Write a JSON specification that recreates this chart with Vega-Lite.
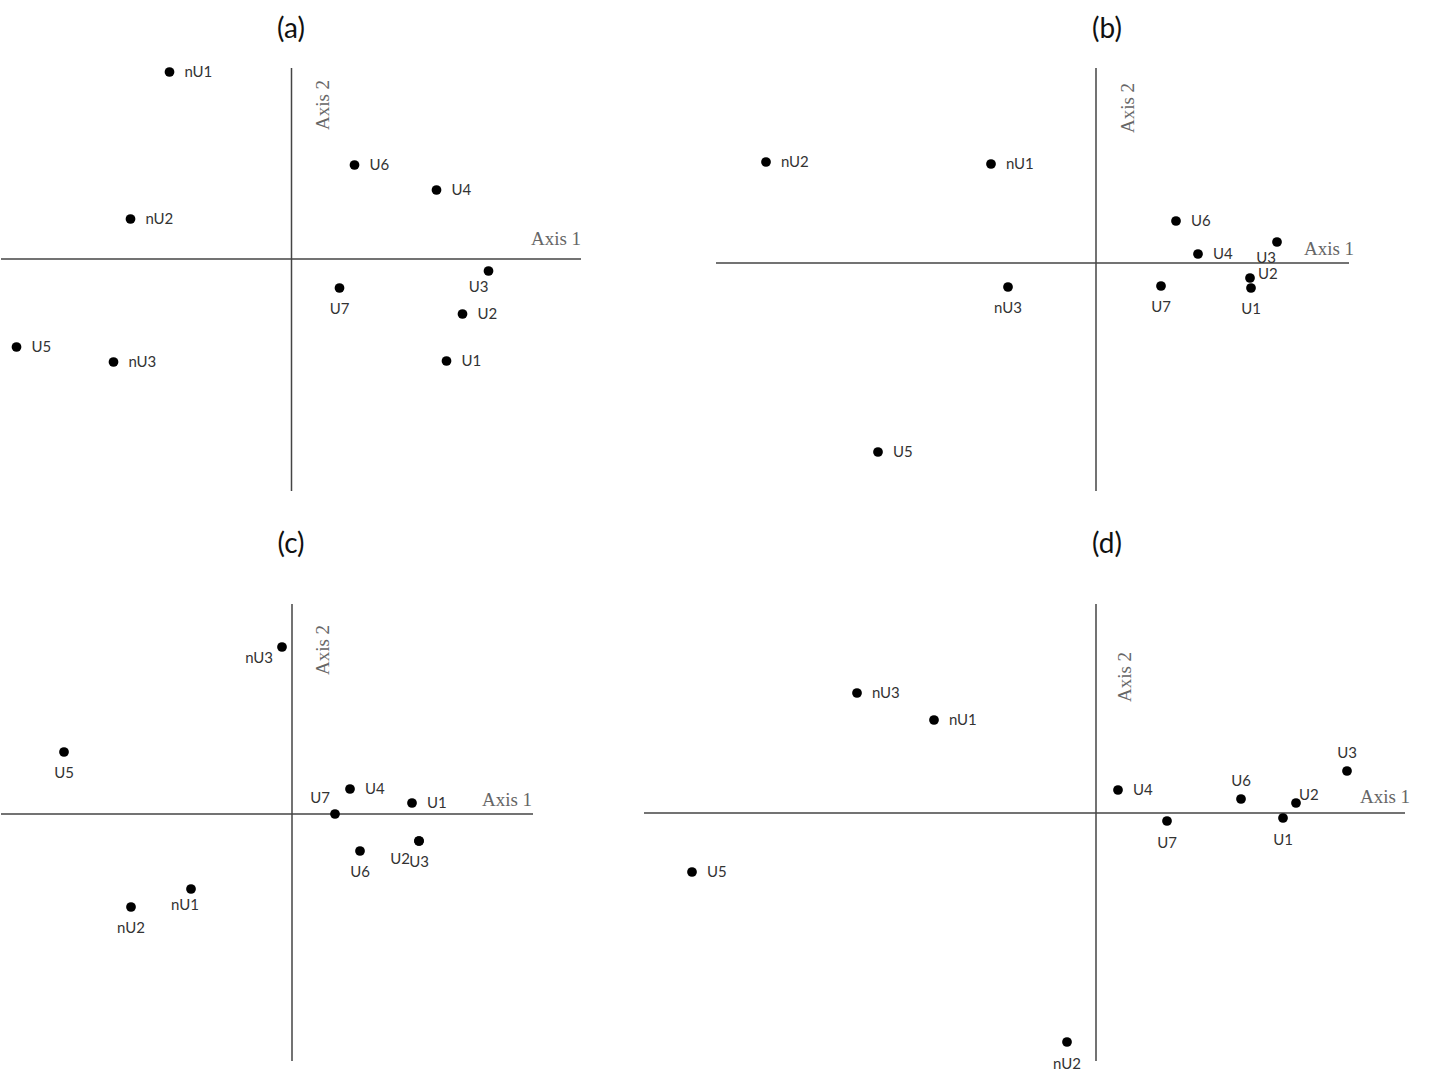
{
  "$schema": "https://vega.github.io/schema/vega-lite/v6.json",
  "padding": {"left": 0, "right": 0, "top": 16, "bottom": 0},
  "background": "white",
  "bounds": "flush",
  "columns": 2,
  "spacing": {"row": 65, "column": 0},
  "config": {
    "view": {"stroke": null},
    "title": {"font": "Lato", "fontSize": 28, "fontWeight": "normal", "color": "#111", "offset": 6},
    "text": {"font": "Lato", "fontSize": 15, "color": "#333", "baseline": "middle"},
    "rule": {"color": "#444", "strokeWidth": 1.5},
    "circle": {"color": "#000", "opacity": 1, "size": 95}
  },
  "datasets": {
    "ax": [
      {"panel": "a", "hx1": -2.905, "hx2": 2.895, "vy1": 1.91, "vy2": -2.32, "t1x": 2.645, "t1y": 0.20, "t2x": 0.315, "t2y": 1.54},
      {"panel": "b", "hx1": -3.80, "hx2": 2.53, "vy1": 1.95, "vy2": -2.28, "t1x": 2.33, "t1y": 0.14, "t2x": 0.32, "t2y": 1.55},
      {"panel": "c", "hx1": -2.91, "hx2": 2.41, "vy1": 2.10, "vy2": -2.47, "t1x": 2.15, "t1y": 0.14, "t2x": 0.31, "t2y": 1.64},
      {"panel": "d", "hx1": -4.52, "hx2": 3.09, "vy1": 2.09, "vy2": -2.48, "t1x": 2.89, "t1y": 0.16, "t2x": 0.29, "t2y": 1.36}
    ],
    "pa": [
      {"label": "nU1", "x": -1.22, "y": 1.87, "pos": "right"},
      {"label": "U6", "x": 0.63, "y": 0.94, "pos": "right"},
      {"label": "U4", "x": 1.45, "y": 0.69, "pos": "right"},
      {"label": "nU2", "x": -1.61, "y": 0.40, "pos": "right"},
      {"label": "U3", "x": 1.97, "y": -0.12, "pos": "belowleft"},
      {"label": "U7", "x": 0.48, "y": -0.29, "pos": "below"},
      {"label": "U2", "x": 1.71, "y": -0.55, "pos": "right"},
      {"label": "U5", "x": -2.75, "y": -0.88, "pos": "right"},
      {"label": "nU3", "x": -1.78, "y": -1.03, "pos": "right"},
      {"label": "U1", "x": 1.55, "y": -1.02, "pos": "right"}
    ],
    "pb": [
      {"label": "nU2", "x": -3.30, "y": 1.01, "pos": "right"},
      {"label": "nU1", "x": -1.05, "y": 0.99, "pos": "right"},
      {"label": "U6", "x": 0.80, "y": 0.42, "pos": "right"},
      {"label": "U4", "x": 1.02, "y": 0.09, "pos": "right"},
      {"label": "U3", "x": 1.81, "y": 0.21, "pos": "belowleft"},
      {"label": "U2", "x": 1.54, "y": -0.15, "pos": "rightup"},
      {"label": "U1", "x": 1.55, "y": -0.25, "pos": "below"},
      {"label": "U7", "x": 0.65, "y": -0.23, "pos": "below"},
      {"label": "nU3", "x": -0.88, "y": -0.24, "pos": "below"},
      {"label": "U5", "x": -2.18, "y": -1.89, "pos": "right"}
    ],
    "pc": [
      {"label": "nU3", "x": -0.10, "y": 1.67, "pos": "leftbelow"},
      {"label": "U5", "x": -2.28, "y": 0.62, "pos": "below"},
      {"label": "U4", "x": 0.58, "y": 0.25, "pos": "right"},
      {"label": "U7", "x": 0.43, "y": 0.00, "pos": "aboveleft"},
      {"label": "U1", "x": 1.20, "y": 0.11, "pos": "right"},
      {"label": "U6", "x": 0.68, "y": -0.37, "pos": "below"},
      {"label": "U2", "x": 1.27, "y": -0.27, "pos": "belowfarleft"},
      {"label": "U3", "x": 1.27, "y": -0.27, "pos": "below"},
      {"label": "nU1", "x": -1.01, "y": -0.75, "pos": "belowleft"},
      {"label": "nU2", "x": -1.61, "y": -0.93, "pos": "below"}
    ],
    "pd": [
      {"label": "nU3", "x": -2.39, "y": 1.20, "pos": "right"},
      {"label": "nU1", "x": -1.62, "y": 0.93, "pos": "right"},
      {"label": "U3", "x": 2.51, "y": 0.42, "pos": "above"},
      {"label": "U4", "x": 0.22, "y": 0.23, "pos": "right"},
      {"label": "U6", "x": 1.45, "y": 0.14, "pos": "above"},
      {"label": "U2", "x": 2.00, "y": 0.10, "pos": "rightup"},
      {"label": "U1", "x": 1.87, "y": -0.05, "pos": "below"},
      {"label": "U7", "x": 0.71, "y": -0.08, "pos": "below"},
      {"label": "U5", "x": -4.04, "y": -0.59, "pos": "right"},
      {"label": "nU2", "x": -0.29, "y": -2.29, "pos": "below"}
    ]
  },
  "concat": [
    {
      "width": 640, "height": 450,
      "title": {"text": "(a)", "dx": -30},
      "layer": [
        {"data": {"name": "ax"}, "transform": [{"filter": "datum.panel === 'a'"}], "mark": "rule",
         "encoding": {"x": {"field": "hx1", "type": "quantitative", "scale": {"domain": [-2.905, 3.495], "nice": false, "zero": false}, "axis": null}, "x2": {"field": "hx2"}, "y": {"datum": 0, "type": "quantitative", "scale": {"domain": [-2.41, 2.09], "nice": false, "zero": false}, "axis": null}}},
        {"data": {"name": "ax"}, "transform": [{"filter": "datum.panel === 'a'"}], "mark": "rule",
         "encoding": {"x": {"datum": 0, "type": "quantitative"}, "y": {"field": "vy1", "type": "quantitative"}, "y2": {"field": "vy2"}}},
        {"data": {"name": "ax"}, "transform": [{"filter": "datum.panel === 'a'"}], "mark": {"type": "text", "font": "Liberation Serif", "fontSize": 19, "color": "#666", "align": "center"},
         "encoding": {"x": {"field": "t1x", "type": "quantitative"}, "y": {"field": "t1y", "type": "quantitative"}, "text": {"value": "Axis 1"}}},
        {"data": {"name": "ax"}, "transform": [{"filter": "datum.panel === 'a'"}], "mark": {"type": "text", "font": "Liberation Serif", "fontSize": 19, "color": "#666", "align": "center", "angle": 270},
         "encoding": {"x": {"field": "t2x", "type": "quantitative"}, "y": {"field": "t2y", "type": "quantitative"}, "text": {"value": "Axis 2"}}},
        {"data": {"name": "pa"}, "mark": "circle",
         "encoding": {"x": {"field": "x", "type": "quantitative"}, "y": {"field": "y", "type": "quantitative"}}},
        {"data": {"name": "pa"}, "transform": [{"filter": "datum.pos === 'right'"}], "mark": {"type": "text", "align": "left", "dx": 15},
         "encoding": {"x": {"field": "x", "type": "quantitative"}, "y": {"field": "y", "type": "quantitative"}, "text": {"field": "label"}}},
        {"data": {"name": "pa"}, "transform": [{"filter": "datum.pos === 'below'"}], "mark": {"type": "text", "align": "center", "dy": 21},
         "encoding": {"x": {"field": "x", "type": "quantitative"}, "y": {"field": "y", "type": "quantitative"}, "text": {"field": "label"}}},
        {"data": {"name": "pa"}, "transform": [{"filter": "datum.pos === 'belowleft'"}], "mark": {"type": "text", "align": "center", "dx": -10, "dy": 16},
         "encoding": {"x": {"field": "x", "type": "quantitative"}, "y": {"field": "y", "type": "quantitative"}, "text": {"field": "label"}}}
      ]
    },
    {
      "width": 790, "height": 450,
      "title": {"text": "(b)", "dx": 71},
      "layer": [
        {"data": {"name": "ax"}, "transform": [{"filter": "datum.panel === 'b'"}], "mark": "rule",
         "encoding": {"x": {"field": "hx1", "type": "quantitative", "scale": {"domain": [-4.55, 3.35], "nice": false, "zero": false}, "axis": null}, "x2": {"field": "hx2"}, "y": {"datum": 0, "type": "quantitative", "scale": {"domain": [-2.37, 2.13], "nice": false, "zero": false}, "axis": null}}},
        {"data": {"name": "ax"}, "transform": [{"filter": "datum.panel === 'b'"}], "mark": "rule",
         "encoding": {"x": {"datum": 0, "type": "quantitative"}, "y": {"field": "vy1", "type": "quantitative"}, "y2": {"field": "vy2"}}},
        {"data": {"name": "ax"}, "transform": [{"filter": "datum.panel === 'b'"}], "mark": {"type": "text", "font": "Liberation Serif", "fontSize": 19, "color": "#666", "align": "center"},
         "encoding": {"x": {"field": "t1x", "type": "quantitative"}, "y": {"field": "t1y", "type": "quantitative"}, "text": {"value": "Axis 1"}}},
        {"data": {"name": "ax"}, "transform": [{"filter": "datum.panel === 'b'"}], "mark": {"type": "text", "font": "Liberation Serif", "fontSize": 19, "color": "#666", "align": "center", "angle": 270},
         "encoding": {"x": {"field": "t2x", "type": "quantitative"}, "y": {"field": "t2y", "type": "quantitative"}, "text": {"value": "Axis 2"}}},
        {"data": {"name": "pb"}, "mark": "circle",
         "encoding": {"x": {"field": "x", "type": "quantitative"}, "y": {"field": "y", "type": "quantitative"}}},
        {"data": {"name": "pb"}, "transform": [{"filter": "datum.pos === 'right'"}], "mark": {"type": "text", "align": "left", "dx": 15},
         "encoding": {"x": {"field": "x", "type": "quantitative"}, "y": {"field": "y", "type": "quantitative"}, "text": {"field": "label"}}},
        {"data": {"name": "pb"}, "transform": [{"filter": "datum.pos === 'below'"}], "mark": {"type": "text", "align": "center", "dy": 21},
         "encoding": {"x": {"field": "x", "type": "quantitative"}, "y": {"field": "y", "type": "quantitative"}, "text": {"field": "label"}}},
        {"data": {"name": "pb"}, "transform": [{"filter": "datum.pos === 'belowleft'"}], "mark": {"type": "text", "align": "center", "dx": -11, "dy": 16},
         "encoding": {"x": {"field": "x", "type": "quantitative"}, "y": {"field": "y", "type": "quantitative"}, "text": {"field": "label"}}},
        {"data": {"name": "pb"}, "transform": [{"filter": "datum.pos === 'rightup'"}], "mark": {"type": "text", "align": "left", "dx": 8, "dy": -4},
         "encoding": {"x": {"field": "x", "type": "quantitative"}, "y": {"field": "y", "type": "quantitative"}, "text": {"field": "label"}}}
      ]
    },
    {
      "width": 640, "height": 505,
      "title": {"text": "(c)", "dx": -30},
      "layer": [
        {"data": {"name": "ax"}, "transform": [{"filter": "datum.panel === 'c'"}], "mark": "rule",
         "encoding": {"x": {"field": "hx1", "type": "quantitative", "scale": {"domain": [-2.91, 3.49], "nice": false, "zero": false}, "axis": null}, "x2": {"field": "hx2"}, "y": {"datum": 0, "type": "quantitative", "scale": {"domain": [-2.56, 2.49], "nice": false, "zero": false}, "axis": null}}},
        {"data": {"name": "ax"}, "transform": [{"filter": "datum.panel === 'c'"}], "mark": "rule",
         "encoding": {"x": {"datum": 0, "type": "quantitative"}, "y": {"field": "vy1", "type": "quantitative"}, "y2": {"field": "vy2"}}},
        {"data": {"name": "ax"}, "transform": [{"filter": "datum.panel === 'c'"}], "mark": {"type": "text", "font": "Liberation Serif", "fontSize": 19, "color": "#666", "align": "center"},
         "encoding": {"x": {"field": "t1x", "type": "quantitative"}, "y": {"field": "t1y", "type": "quantitative"}, "text": {"value": "Axis 1"}}},
        {"data": {"name": "ax"}, "transform": [{"filter": "datum.panel === 'c'"}], "mark": {"type": "text", "font": "Liberation Serif", "fontSize": 19, "color": "#666", "align": "center", "angle": 270},
         "encoding": {"x": {"field": "t2x", "type": "quantitative"}, "y": {"field": "t2y", "type": "quantitative"}, "text": {"value": "Axis 2"}}},
        {"data": {"name": "pc"}, "mark": "circle",
         "encoding": {"x": {"field": "x", "type": "quantitative"}, "y": {"field": "y", "type": "quantitative"}}},
        {"data": {"name": "pc"}, "transform": [{"filter": "datum.pos === 'right'"}], "mark": {"type": "text", "align": "left", "dx": 15},
         "encoding": {"x": {"field": "x", "type": "quantitative"}, "y": {"field": "y", "type": "quantitative"}, "text": {"field": "label"}}},
        {"data": {"name": "pc"}, "transform": [{"filter": "datum.pos === 'below'"}], "mark": {"type": "text", "align": "center", "dy": 21},
         "encoding": {"x": {"field": "x", "type": "quantitative"}, "y": {"field": "y", "type": "quantitative"}, "text": {"field": "label"}}},
        {"data": {"name": "pc"}, "transform": [{"filter": "datum.pos === 'belowleft'"}], "mark": {"type": "text", "align": "center", "dx": -6, "dy": 16},
         "encoding": {"x": {"field": "x", "type": "quantitative"}, "y": {"field": "y", "type": "quantitative"}, "text": {"field": "label"}}},
        {"data": {"name": "pc"}, "transform": [{"filter": "datum.pos === 'belowfarleft'"}], "mark": {"type": "text", "align": "center", "dx": -19, "dy": 18},
         "encoding": {"x": {"field": "x", "type": "quantitative"}, "y": {"field": "y", "type": "quantitative"}, "text": {"field": "label"}}},
        {"data": {"name": "pc"}, "transform": [{"filter": "datum.pos === 'aboveleft'"}], "mark": {"type": "text", "align": "center", "dx": -15, "dy": -16},
         "encoding": {"x": {"field": "x", "type": "quantitative"}, "y": {"field": "y", "type": "quantitative"}, "text": {"field": "label"}}},
        {"data": {"name": "pc"}, "transform": [{"filter": "datum.pos === 'leftbelow'"}], "mark": {"type": "text", "align": "right", "dx": -9, "dy": 11},
         "encoding": {"x": {"field": "x", "type": "quantitative"}, "y": {"field": "y", "type": "quantitative"}, "text": {"field": "label"}}}
      ]
    },
    {
      "width": 790, "height": 505,
      "title": {"text": "(d)", "dx": 71},
      "layer": [
        {"data": {"name": "ax"}, "transform": [{"filter": "datum.panel === 'd'"}], "mark": "rule",
         "encoding": {"x": {"field": "hx1", "type": "quantitative", "scale": {"domain": [-4.55, 3.35], "nice": false, "zero": false}, "axis": null}, "x2": {"field": "hx2"}, "y": {"datum": 0, "type": "quantitative", "scale": {"domain": [-2.57, 2.48], "nice": false, "zero": false}, "axis": null}}},
        {"data": {"name": "ax"}, "transform": [{"filter": "datum.panel === 'd'"}], "mark": "rule",
         "encoding": {"x": {"datum": 0, "type": "quantitative"}, "y": {"field": "vy1", "type": "quantitative"}, "y2": {"field": "vy2"}}},
        {"data": {"name": "ax"}, "transform": [{"filter": "datum.panel === 'd'"}], "mark": {"type": "text", "font": "Liberation Serif", "fontSize": 19, "color": "#666", "align": "center"},
         "encoding": {"x": {"field": "t1x", "type": "quantitative"}, "y": {"field": "t1y", "type": "quantitative"}, "text": {"value": "Axis 1"}}},
        {"data": {"name": "ax"}, "transform": [{"filter": "datum.panel === 'd'"}], "mark": {"type": "text", "font": "Liberation Serif", "fontSize": 19, "color": "#666", "align": "center", "angle": 270},
         "encoding": {"x": {"field": "t2x", "type": "quantitative"}, "y": {"field": "t2y", "type": "quantitative"}, "text": {"value": "Axis 2"}}},
        {"data": {"name": "pd"}, "mark": "circle",
         "encoding": {"x": {"field": "x", "type": "quantitative"}, "y": {"field": "y", "type": "quantitative"}}},
        {"data": {"name": "pd"}, "transform": [{"filter": "datum.pos === 'right'"}], "mark": {"type": "text", "align": "left", "dx": 15},
         "encoding": {"x": {"field": "x", "type": "quantitative"}, "y": {"field": "y", "type": "quantitative"}, "text": {"field": "label"}}},
        {"data": {"name": "pd"}, "transform": [{"filter": "datum.pos === 'below'"}], "mark": {"type": "text", "align": "center", "dy": 22},
         "encoding": {"x": {"field": "x", "type": "quantitative"}, "y": {"field": "y", "type": "quantitative"}, "text": {"field": "label"}}},
        {"data": {"name": "pd"}, "transform": [{"filter": "datum.pos === 'above'"}], "mark": {"type": "text", "align": "center", "dy": -18},
         "encoding": {"x": {"field": "x", "type": "quantitative"}, "y": {"field": "y", "type": "quantitative"}, "text": {"field": "label"}}},
        {"data": {"name": "pd"}, "transform": [{"filter": "datum.pos === 'rightup'"}], "mark": {"type": "text", "align": "left", "dx": 3, "dy": -8},
         "encoding": {"x": {"field": "x", "type": "quantitative"}, "y": {"field": "y", "type": "quantitative"}, "text": {"field": "label"}}}
      ]
    }
  ]
}
